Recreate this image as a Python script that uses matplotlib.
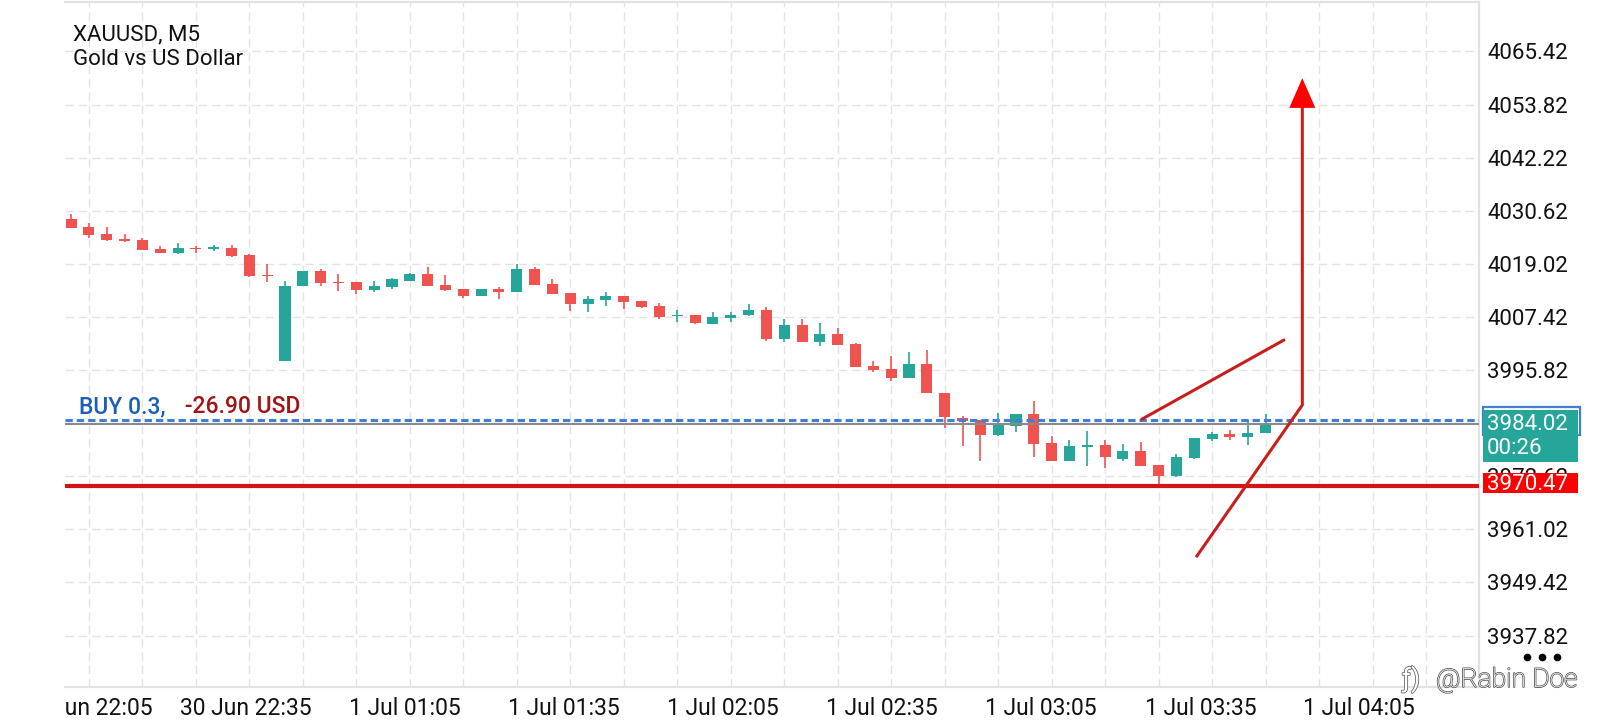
import matplotlib
matplotlib.use('Agg')
import matplotlib.pyplot as plt
import matplotlib.patheffects as pe
from matplotlib.patches import Rectangle, Polygon
from matplotlib.lines import Line2D
from matplotlib.transforms import blended_transform_factory, Bbox, TransformedBbox

plt.rcParams['font.family'] = ['Roboto', 'DejaVu Sans']

# XAUUSD M5 candles, oldest first
opens = [4028.83, 4027.07, 4025.52, 4024.46, 4024.17, 4022.26, 4021.45, 4022.48, 4022.33, 4022.48,
         4020.93, 4016.57, 3997.88, 4014.27, 4017.45, 4015.08, 4015.00, 4013.38, 4014.04, 4015.37,
         4016.79, 4014.41, 4013.53, 4012.06, 4013.53, 4012.94, 4017.89, 4014.63, 4012.65, 4010.30,
         4011.18, 4011.99, 4010.94, 4009.84, 4007.55, 4007.85, 4005.94, 4007.26, 4007.92, 4008.95,
         4002.61, 4005.70, 4002.02, 4003.71, 4001.51, 3996.63, 3996.05, 3994.18, 3997.07, 3990.85,
         3985.39, 3984.95, 3981.64, 3983.69, 3986.22, 3979.92, 3976.03, 3979.12, 3979.41, 3976.40,
         3978.09, 3975.12, 3972.77, 3976.62, 3980.76, 3981.86, 3981.12, 3982.00]
highs = [4029.93, 4027.95, 4027.07, 4025.56, 4024.68, 4022.92, 4023.58, 4022.99, 4023.14, 4023.14,
         4021.15, 4019.00, 4015.30, 4017.45, 4017.90, 4016.72, 4015.00, 4015.29, 4016.00, 4017.08,
         4018.33, 4016.57, 4013.53, 4013.53, 4013.97, 4018.99, 4018.26, 4015.74, 4012.65, 4011.91,
         4012.80, 4011.99, 4010.94, 4010.50, 4008.88, 4007.85, 4008.51, 4008.51, 4010.28, 4009.62,
         4007.02, 4007.02, 4006.14, 4004.96, 4001.73, 3997.73, 3998.84, 3999.72, 4000.23, 3990.85,
         3985.75, 3984.95, 3986.49, 3986.22, 3989.01, 3981.49, 3980.58, 3982.52, 3980.58, 3979.70,
         3980.22, 3975.12, 3977.50, 3980.95, 3982.37, 3982.81, 3985.02, 3986.20]
lows = [4026.80, 4024.76, 4024.09, 4023.87, 4022.05, 4021.40, 4021.23, 4021.30, 4021.89, 4020.56,
        4016.21, 4015.10, 3997.88, 4014.27, 4014.27, 4013.02, 4012.45, 4012.94, 4013.60, 4015.37,
        4014.27, 4013.09, 4011.62, 4012.06, 4011.33, 4012.94, 4014.49, 4012.50, 4008.80, 4008.58,
        4009.90, 4009.17, 4009.40, 4007.04, 4006.38, 4005.79, 4005.94, 4006.23, 4007.56, 4002.24,
        4002.02, 4002.00, 4001.14, 4001.36, 3996.56, 3995.46, 3993.52, 3994.18, 3990.71, 3983.18,
        3979.33, 3976.03, 3981.50, 3982.37, 3976.91, 3976.03, 3975.88, 3974.97, 3974.39, 3976.03,
        3974.97, 3970.93, 3972.40, 3976.40, 3980.24, 3980.53, 3979.51, 3982.00]
closes = [4026.92, 4025.40, 4024.31, 4024.09, 4022.11, 4021.45, 4022.48, 4022.26, 4022.55, 4020.79,
          4016.42, 4016.35, 4014.12, 4017.45, 4014.93, 4014.78, 4013.39, 4014.19, 4015.74, 4016.79,
          4014.27, 4013.38, 4012.06, 4013.53, 4012.94, 4017.89, 4014.49, 4012.50, 4010.30, 4011.33,
          4011.99, 4010.74, 4009.62, 4007.48, 4007.85, 4006.01, 4007.41, 4007.85, 4008.95, 4002.61,
          4005.70, 4002.02, 4003.71, 4001.36, 3996.56, 3995.90, 3994.18, 3997.07, 3990.71, 3985.63,
          3984.65, 3981.71, 3983.84, 3986.22, 3979.78, 3976.03, 3979.19, 3979.41, 3976.76, 3978.09,
          3974.97, 3972.77, 3976.76, 3980.95, 3981.86, 3981.12, 3982.08, 3984.02]

price_ticks = [4065.42, 4053.82, 4042.22, 4030.62, 4019.02, 4007.42, 3995.82,
               3984.22, 3972.62, 3961.02, 3949.42, 3937.82]
time_labels = ['30 Jun 22:05', '30 Jun 22:35', '1 Jul 01:05', '1 Jul 01:35', '1 Jul 02:05',
               '1 Jul 02:35', '1 Jul 03:05', '1 Jul 03:35', '1 Jul 04:05']

symbol = 'XAUUSD, M5'
description = 'Gold vs US Dollar'
buy_price = 3985.00
buy_text = 'BUY 0.3,'
pnl_text = '-26.90 USD'
bid_price = 3984.02
bar_timer = '00:26'
stop_price = 3970.47

# hand drawn marks on top of the chart (bar index, price)
sketch_x = [60.05, 68.03]
sketch_y = [3985.07, 4002.39]
arrow_x = [63.15, 69.06, 69.06]
arrow_y = [3955.21, 3988.19, 4053.1]
arrow_tip = 4059.6

UP = '#26a69a'
DOWN = '#ef5350'
GRID = '#e3e3e3'

W, H = 1600, 720
fig = plt.figure(figsize=(W / 100, H / 100), dpi=100)
ax = fig.add_axes([65 / W, 1 - 687 / H, (1479 - 65) / W, (687 - 2) / H])

y_lo, y_hi = 3926.59, 4076.23
ax.set_xlim(-0.34, 78.97)
ax.set_ylim(y_lo, y_hi)
ppx = (y_hi - y_lo) / 685.0  # price per pixel

# candles
idx = list(range(len(opens)))
cols = [UP if c >= o else DOWN for o, c in zip(opens, closes)]
ax.vlines(idx, lows, highs, colors=cols, linewidth=1.2, zorder=3)
bottoms = [min(o, c) for o, c in zip(opens, closes)]
heights = [max(abs(c - o), 0.3) for o, c in zip(opens, closes)]
ax.bar(idx, heights, bottom=bottoms, width=0.62, color=cols, linewidth=0, zorder=4)

# grid
ax.set_xticks(list(range(1, 79, 3)))
ax.set_xticklabels([])
ax.set_yticks(price_ticks)
ax.set_yticklabels(['%.2f' % p for p in price_ticks])
ax.yaxis.tick_right()
ax.tick_params(axis='both', length=0)
ax.tick_params(axis='y', pad=6, labelsize=16, labelcolor='#111111')
ax.grid(True, color=GRID, linewidth=1.0, linestyle=(0, (6, 3.6)), zorder=0)
ax.set_axisbelow(True)
for side in ['top', 'right', 'bottom']:
    ax.spines[side].set_color('#e2e2e2')
    ax.spines[side].set_linewidth(1.6)
ax.spines['left'].set_visible(False)

# time labels below the chart, the first one is cut by the chart's left edge
tr = blended_transform_factory(ax.transData, ax.transAxes)
label_pos = [0.9 + 8.92 * k for k in range(len(time_labels))]
clip = TransformedBbox(Bbox([[0, -1], [1.5, 1]]), ax.transAxes)
for pos, lab in zip(label_pos, time_labels):
    t = ax.text(pos, -0.015, lab, transform=tr, ha='center', va='top', fontsize=16.5,
                color='#111111', clip_on=False)
    if pos < 3:
        t.set_clip_on(True)
        t.set_clip_box(clip)

# position lines
ax.axhline(stop_price, color='#d41414', linewidth=3.0, zorder=5)
ax.axhline(bid_price, color='#8a8a8a', linewidth=1.5, zorder=5)
ax.axhline(buy_price, color='#3f7fd8', linewidth=2.2, linestyle=(0, (2.4, 1.3)), zorder=6)

fig.text(79 / W, 1 - 413 / H, buy_text, fontsize=16.5, color='#1d5fb8', fontweight='medium',
         va='baseline')
fig.text(185 / W, 1 - 413 / H, pnl_text, fontsize=16.5, color='#a31515', fontweight='medium',
         va='baseline')

# title
fig.text(73 / W, 1 - 40 / H, symbol, fontsize=16, color='#111111', va='baseline')
fig.text(73 / W, 1 - 65 / H, description, fontsize=16, color='#111111', va='baseline')

# price labels on the right scale
tr_r = blended_transform_factory(ax.transAxes, ax.transData)
bx = 1.0028
bw = 95 / 1414
ax.add_patch(Rectangle((bx - 0.0003, bid_price - 10.5 * ppx), bw + 0.0018, 28 * ppx,
                       transform=tr_r, fill=False, edgecolor='#3f7fd8', linewidth=1.6,
                       clip_on=False, zorder=9))
ax.add_patch(Rectangle((bx, bid_price - 38 * ppx), bw, 52.4 * ppx, transform=tr_r,
                       facecolor=UP, edgecolor='none', clip_on=False, zorder=10))
ax.text(bx + 0.003, bid_price, '%.2f' % bid_price, transform=tr_r, fontsize=16, color='white',
        va='center', ha='left', clip_on=False, zorder=11)
ax.text(bx + 0.003, bid_price - 24 * ppx, bar_timer, transform=tr_r, fontsize=16, color='white',
        va='center', ha='left', clip_on=False, zorder=11)
ax.add_patch(Rectangle((bx, stop_price - 7.2 * ppx), bw, 20.6 * ppx, transform=tr_r,
                       facecolor='#ff0000', edgecolor='none', clip_on=False, zorder=10))
ax.text(bx + 0.003, stop_price + 1.2 * ppx, '%.2f' % stop_price, transform=tr_r, fontsize=16,
        color='white', va='center', ha='left', clip_on=False, zorder=11)

# hand drawn arrows
ax.plot(sketch_x, sketch_y, color='#c81e1e', linewidth=2.2, solid_capstyle='round', zorder=7)
ax.plot(arrow_x, arrow_y, color='#c81e1e', linewidth=2.2, solid_joinstyle='miter', zorder=7)
ax.add_patch(Polygon([[arrow_x[-1] - 0.73, arrow_y[-1]], [arrow_x[-1] + 0.73, arrow_y[-1]],
                      [arrow_x[-1], arrow_tip]], closed=True, facecolor='#ff0000',
                     edgecolor='none', zorder=8))

# menu dots and watermark
fig.add_artist(Line2D([1527 / W, 1542 / W, 1557 / W], [1 - 657 / H] * 3, transform=fig.transFigure,
                      linestyle='none', marker='o', markersize=4.5, color='black'))
outline = [pe.withStroke(linewidth=1.2, foreground='#666666')]
fig.text(1436 / W, 1 - 687 / H, '@Rabin Doe', fontsize=19, color='white', fontweight='light',
         va='baseline', path_effects=outline)
fig.text(1402 / W, 1 - 687 / H, 'ƒ)', fontsize=19, color='white', va='baseline',
         path_effects=outline)

fig.savefig('out.png', dpi=100, facecolor='white')
